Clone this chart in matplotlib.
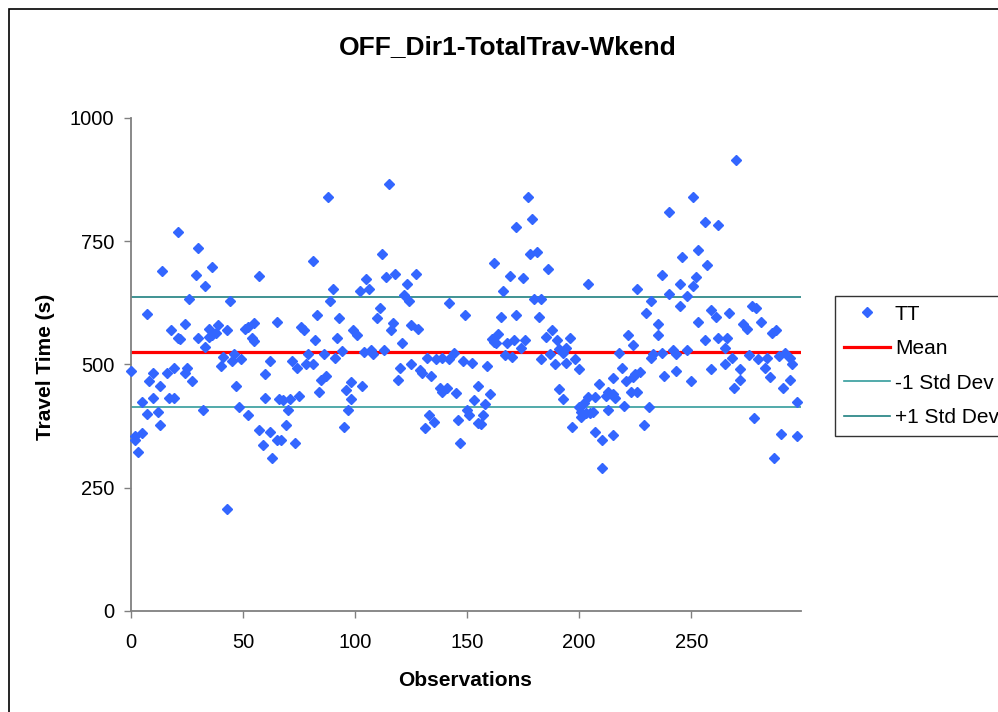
import matplotlib
matplotlib.use("Agg")
import matplotlib.pyplot as plt
from matplotlib.patches import Rectangle

plt.rcParams["font.family"] = ["Liberation Sans", "DejaVu Sans"]

# travel time per observation (s)
obs = [0, 2, 2, 3, 5, 5, 7, 7, 8, 10, 10, 12, 13, 13, 14, 16, 17, 18, 19, 19,
       21, 21, 22, 24, 25, 24, 26, 27, 29, 30, 30, 32, 33, 33, 35, 35, 36, 36, 38, 39,
       40, 41, 43, 43, 44, 45, 46, 47, 48, 49, 51, 52, 55, 54, 55, 52, 57, 57, 59, 60,
       60, 62, 62, 63, 65, 65, 67, 66, 68, 71, 69, 70, 72, 74, 73, 75, 76, 77, 78, 79,
       81, 81, 82, 83, 84, 85, 87, 86, 88, 89, 90, 91, 92, 93, 94, 95, 96, 97, 98, 98,
       99, 101, 103, 102, 105, 106, 104, 107, 108, 110, 111, 112, 113, 114, 118, 115, 116, 117, 119, 120,
       121, 122, 123, 124, 125, 128, 125, 127, 129, 130, 134, 132, 131, 133, 135, 136, 138, 139, 141, 139,
       142, 144, 142, 145, 146, 147, 148, 149, 150, 151, 152, 153, 155, 156, 155, 157, 158, 159, 160, 161,
       162, 164, 163, 162, 165, 166, 167, 170, 168, 171, 169, 172, 172, 174, 175, 176, 177, 178, 181, 179,
       180, 183, 182, 183, 185, 186, 187, 188, 189, 190, 191, 193, 194, 191, 193, 194, 196, 197, 198, 200,
       200, 201, 202, 203, 201, 205, 206, 204, 204, 207, 207, 209, 210, 210, 212, 213, 215, 216, 213, 215,
       215, 218, 219, 220, 221, 222, 223, 224, 224, 225, 227, 226, 226, 229, 230, 231, 232, 232, 233, 235,
       235, 237, 237, 238, 240, 240, 242, 243, 243, 245, 245, 246, 248, 248, 250, 251, 251, 252, 253, 253,
       256, 257, 262, 270, 256, 259, 259, 261, 262, 265, 266, 265, 268, 267, 269, 272, 272, 273, 275, 276,
       277, 279, 278, 280, 283, 284, 281, 285, 286, 288, 287, 289, 292, 294, 295, 290, 291, 294, 297, 297]
tt = [487, 347, 354, 323, 361, 423, 603, 400, 467, 433, 483, 403, 377, 456, 690, 483, 433, 569, 433, 493,
      769, 553, 552, 483, 492, 583, 633, 467, 681, 553, 736, 408, 536, 659, 556, 573, 560, 697, 563, 580,
      497, 515, 570, 207, 629, 508, 521, 456, 414, 511, 573, 577, 585, 553, 548, 398, 367, 680, 337, 433,
      480, 507, 364, 311, 586, 347, 347, 431, 428, 431, 377, 408, 508, 492, 340, 437, 577, 570, 500, 521,
      710, 500, 550, 600, 444, 469, 477, 521, 839, 629, 653, 513, 553, 594, 527, 374, 448, 408, 431, 464,
      570, 560, 456, 650, 673, 653, 525, 529, 521, 594, 614, 725, 529, 678, 683, 866, 570, 585, 469, 492,
      544, 641, 663, 629, 580, 572, 502, 683, 489, 482, 477, 513, 371, 398, 384, 511, 452, 445, 452, 513,
      511, 523, 624, 443, 387, 340, 508, 600, 408, 398, 504, 428, 381, 379, 456, 398, 420, 497, 440, 551,
      546, 561, 543, 705, 597, 650, 519, 516, 544, 550, 680, 600, 778, 533, 676, 550, 839, 725, 729, 795,
      633, 633, 597, 511, 556, 693, 521, 570, 500, 550, 531, 523, 533, 450, 431, 504, 553, 374, 511, 490,
      414, 404, 421, 401, 394, 401, 404, 663, 435, 435, 364, 460, 291, 347, 437, 445, 441, 433, 408, 473,
      357, 523, 492, 416, 467, 560, 444, 540, 475, 480, 484, 444, 653, 377, 605, 414, 629, 513, 521, 560,
      583, 524, 681, 477, 643, 809, 529, 521, 487, 663, 619, 719, 638, 529, 467, 839, 660, 677, 732, 587,
      790, 702, 783, 915, 550, 490, 611, 597, 553, 533, 554, 502, 513, 604, 453, 469, 490, 583, 573, 519,
      619, 614, 391, 511, 492, 513, 587, 475, 563, 570, 311, 517, 523, 513, 502, 360, 453, 469, 354, 423]

tt_mean = 525
tt_sd = 111

x_ticks = [0, 50, 100, 150, 200, 250]
y_ticks = [0, 250, 500, 750, 1000]

W, H = 998, 712
fig = plt.figure(figsize=(W / 100, H / 100), dpi=100)
ax = fig.add_axes([131 / W, 1 - 611 / H, (801 - 131) / W, (611 - 118) / H])

ax.axhline(tt_mean, color="#FF0000", lw=2.3, label="Mean", zorder=2)
ax.axhline(tt_mean - tt_sd, color="#339C9C", lw=1.2, label="-1 Std Dev", zorder=2)
ax.axhline(tt_mean + tt_sd, color="#1F8080", lw=1.2, label="+1 Std Dev", zorder=2)
ax.plot(obs, tt, "D", ls="none", color="#3366FF", mec="#3366FF", ms=5.6,
        label="TT", zorder=3, clip_on=False)

ax.set_xlim(0, 299)
ax.set_ylim(0, 1000)
ax.set_xticks(x_ticks)
ax.set_yticks(y_ticks)

for side in ("top", "right"):
    ax.spines[side].set_visible(False)
for side in ("left", "bottom"):
    ax.spines[side].set_color("#808080")
    ax.spines[side].set_linewidth(1.3)
ax.tick_params(axis="both", direction="out", length=5, width=1, color="#808080",
               labelsize=14.5, labelcolor="black")
ax.tick_params(axis="y", pad=7)
ax.tick_params(axis="x", pad=10.5)

fig.text(508 / W, 1 - 47 / H, "OFF_Dir1-TotalTrav-Wkend", ha="center", va="center",
         fontsize=19, fontweight="bold")
fig.text(465 / W, 1 - 681 / H, "Observations", ha="center", va="center",
         fontsize=15, fontweight="bold")
fig.text(46 / W, 1 - 367 / H, "Travel Time (s)", ha="center", va="center",
         rotation=90, fontsize=15, fontweight="bold")

# legend sits outside the plot; its right side runs past the edge of the chart
h, l = ax.get_legend_handles_labels()
order = [l.index(k) for k in ("TT", "Mean", "-1 Std Dev", "+1 Std Dev")]
leg = fig.legend([h[i] for i in order], [l[i] for i in order],
                 loc="upper left", bbox_to_anchor=(835 / W, 1 - 296 / H),
                 bbox_transform=fig.transFigure, fontsize=15, numpoints=1,
                 frameon=True, fancybox=False, shadow=False, borderpad=0.42,
                 labelspacing=0.74, handlelength=2.2, handletextpad=0.25,
                 borderaxespad=0)
leg.get_frame().set_edgecolor("black")
leg.get_frame().set_linewidth(1)

# chart area frame
fig.patches.append(Rectangle((9 / W, -0.1), 1.2, 1.1 - 9 / H, transform=fig.transFigure,
                             fill=False, ec="black", lw=1.2))

fig.savefig("out.png", dpi=100)
